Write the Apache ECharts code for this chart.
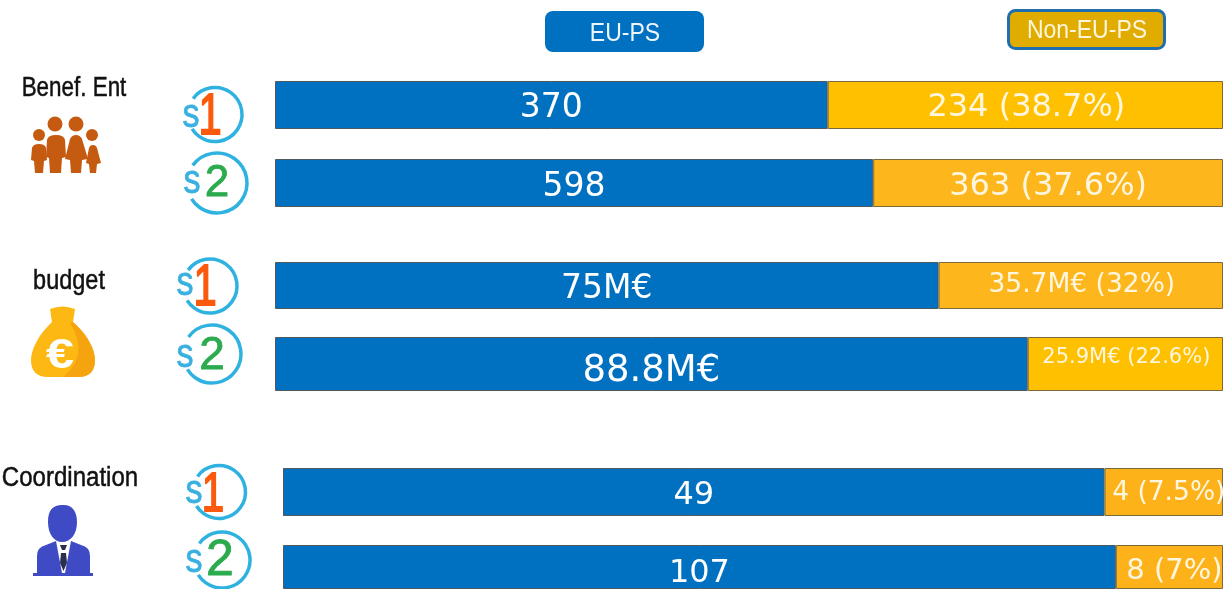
<!DOCTYPE html>
<html>
<head>
<meta charset="utf-8">
<title>EU-PS vs Non-EU-PS</title>
<script src="https://cdn.jsdelivr.net/npm/echarts@6/dist/echarts.min.js"></script>
<style>
html, body { margin: 0; padding: 0; background: #fff; }
#chart { width: 1229px; height: 589px; }
</style>
</head>
<body>
<div id="chart"></div>
<script>
// values
var rows = ['Benef. Ent s1', 'Benef. Ent s2', 'budget s1', 'budget s2', 'Coordination s1', 'Coordination s2'];
var euShare = [58.3, 63.1, 70.0, 79.4, 87.4, 88.6];
var nonEuShare = [41.7, 36.9, 30.0, 20.6, 12.6, 11.4];
var euLabels = ['370', '598', '75M€', '88.8M€', '49', '107'];
var nonEuLabels = ['234 (38.7%)', '363 (37.6%)', '35.7M€ (32%)', '25.9M€ (22.6%)', '4 (7.5%)', '8 (7%)'];

// layout and styling, one entry per row
var rowBoxes = [
    {left: 275, top: 81, width: 948, height: 48, euFont: 33, nonFont: 32, euDy: 3, nonDy: 3, nonDx: 1, nonColor: '#ffc000'},
    {left: 275, top: 159, width: 948, height: 48, euFont: 33, nonFont: 32, euDy: 4, nonDy: 4, nonDx: 0, nonColor: '#fdb61b'},
    {left: 275, top: 262, width: 948, height: 47, euFont: 33, nonFont: 26.5, euDy: 4, nonDy: 0, nonDx: 1, nonColor: '#fdb61b'},
    {left: 275, top: 337, width: 948, height: 54, euFont: 37, nonFont: 21, euDy: 7, nonDy: -6, nonDx: 1, nonColor: '#ffc000'},
    {left: 283, top: 468, width: 940, height: 48, euFont: 32, nonFont: 26.5, euDy: 4, nonDy: 1, nonDx: 5, nonColor: '#fdb21a'},
    {left: 283, top: 545, width: 940, height: 48, euFont: 32, nonFont: 29, euDy: 7, nonDy: 4, nonDx: 5, nonColor: '#fdb21a'}
];
var badges = [
    {cx: 215, cy: 114.5, r: 27, n: '1', nx: 210, ny: 118, nf: 58, sx: 191, sy: 116},
    {cx: 217, cy: 183, r: 30, n: '2', nx: 217, ny: 184, nf: 44, sx: 192, sy: 182},
    {cx: 210, cy: 286, r: 27, n: '1', nx: 205, ny: 289, nf: 58, sx: 185, sy: 284},
    {cx: 212, cy: 354, r: 29, n: '2', nx: 212, ny: 356, nf: 46, sx: 185, sy: 356},
    {cx: 219, cy: 492, r: 26.5, n: '1', nx: 213, ny: 496, nf: 56, sx: 194, sy: 492},
    {cx: 222, cy: 560, r: 28, n: '2', nx: 220, ny: 561, nf: 50, sx: 194, sy: 561}
];
var groupTitles = [
    {text: 'Benef. Ent', x: 74, y: 89, scale: 0.83},
    {text: 'budget', x: 69, y: 282, scale: 0.87},
    {text: 'Coordination', x: 70, y: 479, scale: 0.89}
];

var barFont = 'DejaVu Sans';
var grids = [], xAxes = [], yAxes = [], series = [];

rowBoxes.forEach(function (box, i) {
    grids.push({left: box.left, top: box.top, width: box.width, height: box.height, containLabel: false});
    xAxes.push({type: 'value', gridIndex: i, min: 0, max: 100, show: false});
    yAxes.push({type: 'category', gridIndex: i, data: [rows[i]], show: false});
    series.push({
        name: 'EU-PS',
        type: 'bar',
        stack: 'row' + i,
        xAxisIndex: i,
        yAxisIndex: i,
        barWidth: '100%',
        silent: true,
        itemStyle: {color: '#0070c0', borderColor: '#4e5a60', borderWidth: 1},
        label: {
            show: true, position: 'inside', color: '#fff', fontFamily: barFont,
            fontSize: box.euFont, offset: [0, box.euDy], formatter: euLabels[i]
        },
        data: [euShare[i]]
    });
    series.push({
        name: 'Non-EU-PS',
        type: 'bar',
        stack: 'row' + i,
        xAxisIndex: i,
        yAxisIndex: i,
        barWidth: '100%',
        silent: true,
        itemStyle: {color: box.nonColor, borderColor: '#7a6a3a', borderWidth: 1},
        label: {
            show: true, position: 'inside', color: '#fff6e0', fontFamily: barFont,
            fontSize: box.nonFont, offset: [box.nonDx, box.nonDy], formatter: nonEuLabels[i]
        },
        data: [nonEuShare[i]]
    });
});

// graphic has no plain path type, so icon outlines are registered as shapes
var shapeCount = 0;
function iconPath(d, fill) {
    var name = 'iconShape' + (shapeCount++);
    echarts.graphic.registerShape(name, echarts.graphic.extendPath(d));
    return {type: name, silent: true, style: {fill: fill}};
}

var graphics = [];

// legend pills
graphics.push({
    type: 'rect', silent: true,
    shape: {x: 545, y: 11, width: 159, height: 41, r: 8},
    style: {fill: '#0070c0'}
});
graphics.push({
    type: 'text', silent: true, x: 625, y: 34, scaleX: 0.92,
    style: {text: 'EU-PS', fill: '#eef6fc', font: '25px "Liberation Sans"', textAlign: 'center', textVerticalAlign: 'middle'}
});
graphics.push({
    type: 'rect', silent: true,
    shape: {x: 1008.5, y: 10.5, width: 156, height: 38, r: 7},
    style: {fill: '#e0ac00', stroke: '#1f6fb0', lineWidth: 3}
});
graphics.push({
    type: 'text', silent: true, x: 1087, y: 31, scaleX: 0.92,
    style: {text: 'Non-EU-PS', fill: '#fdf6dc', font: '25px "Liberation Sans"', textAlign: 'center', textVerticalAlign: 'middle'}
});

// left hand group titles
groupTitles.forEach(function (t) {
    graphics.push({
        type: 'text', silent: true, x: t.x, y: t.y, scaleX: t.scale,
        style: {text: t.text, fill: '#111', stroke: '#111', lineWidth: 0.5, font: '27px "Liberation Sans"', textAlign: 'center', textVerticalAlign: 'middle'}
    });
});

// s1 / s2 badges
badges.forEach(function (b) {
    var numColor = b.n === '1' ? '#fb5a0e' : '#2bab4e';
    graphics.push({
        type: 'arc', silent: true,
        shape: {cx: b.cx, cy: b.cy, r: b.r, startAngle: 216 * Math.PI / 180, endAngle: 508 * Math.PI / 180, clockwise: true},
        style: {fill: null, stroke: '#2fb2e0', lineWidth: 3.5}
    });
    graphics.push({
        type: 'text', silent: true, x: b.sx, y: b.sy, scaleX: 0.85,
        style: {text: 's', fill: '#3ab0e0', stroke: '#3ab0e0', lineWidth: 0.8, font: '40px "Liberation Sans"', textAlign: 'center', textVerticalAlign: 'middle'}
    });
    graphics.push({
        type: 'text', silent: true, x: b.nx, y: b.ny, scaleX: b.n === '1' ? 0.72 : 1,
        style: {
            text: b.n, fill: numColor, stroke: numColor, lineWidth: b.n === '1' ? 1.8 : 0.8,
            font: b.nf + 'px "Liberation Sans"', textAlign: 'center', textVerticalAlign: 'middle'
        }
    });
});

// people icon
var peopleColor = '#c55a11';
[[55, 124, 7.5], [76, 124, 7.5], [39, 135, 6], [92, 135, 6]].forEach(function (h) {
    graphics.push({type: 'circle', silent: true, shape: {cx: h[0], cy: h[1], r: h[2]}, style: {fill: peopleColor}});
});
['M32,148 Q33,144 39,144 Q45,144 46,148 L47,160 L44,161 L43,173 L35,173 L34,161 L31,160 Z',
 'M47,140 Q48,135 56,135 Q64,135 65,140 L66,157 L62,158 L61,173 L50,173 L49,158 L46,157 Z',
 'M70,139 Q72,135 76,135 Q80,135 82,139 L88,159 L82,160 L81,173 L71,173 L70,160 L65,159 Z',
 'M89,148 Q90,145 93,145 Q96,145 97,148 L101,163 L97,164 L96,173 L90,173 L89,164 L86,163 Z'
].forEach(function (p) {
    graphics.push(iconPath(p, peopleColor));
});

// money bag icon
graphics.push(iconPath('M50,309 Q62,304 75,309 L73,322 C88,335 95,350 95,360 Q95,377 78,377 L48,377 Q31,377 31,360 C31,350 38,335 52,322 Z', '#fdb813'));
graphics.push(iconPath('M70,323 L73,322 C88,335 95,350 95,360 Q95,377 78,377 L63,377 Q90,355 70,323 Z', '#f5a410'));
graphics.push({
    type: 'text', silent: true, x: 60, y: 356, scaleX: 1.2,
    style: {text: '€', fill: '#fff', font: 'bold 42px "Liberation Sans"', textAlign: 'center', textVerticalAlign: 'middle'}
});

// person icon
var personColor = '#3f4bc4';
['M48,522 C48,510 53,505 62,505 C72,504 77,511 77,522 C77,534 71,542 62,542 C54,542 48,534 48,522 Z',
 'M37,573 L37,556 Q37,547 46,545 L56,541 L62,573 Z',
 'M90,573 L90,556 Q90,547 81,545 L71,541 L65,573 Z',
 'M33,573 L93,573 L93,576 L33,576 Z'
].forEach(function (p) {
    graphics.push(iconPath(p, personColor));
});
['M60,545 L67,545 L65,550 L62,550 Z', 'M61,553 L66,553 L67,563 L63.5,571 L60,563 Z'].forEach(function (p) {
    graphics.push(iconPath(p, '#2a2f4b'));
});

var myChart = echarts.init(document.getElementById('chart'));

option = {
    backgroundColor: '#fff',
    animation: false,
    grid: grids,
    xAxis: xAxes,
    yAxis: yAxes,
    series: series,
    graphic: {elements: graphics}
};

myChart.setOption(option);
</script>
</body>
</html>
